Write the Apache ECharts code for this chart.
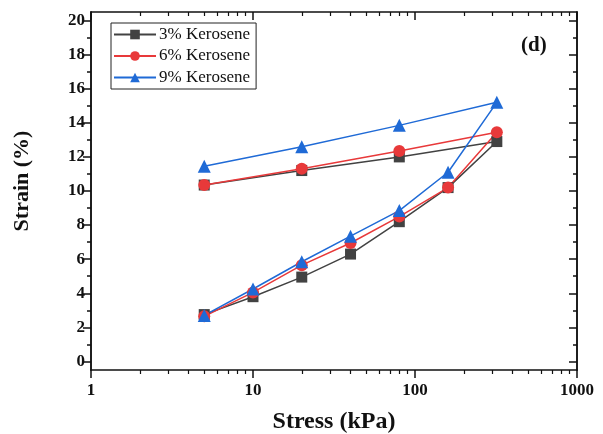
<!DOCTYPE html>
<html style="height: 100%">
<head>
    <meta charset="utf-8">
    <title>Strain vs Stress</title>
    <script src="https://cdn.jsdelivr.net/npm/echarts@6.0.0/dist/echarts.min.js"></script>
</head>
<body style="height: 100%; margin: 0; background: #fff">
<div id="container" style="width: 603px; height: 434px"></div>
<script type="text/javascript">
    // loading 5 -> 320 kPa, then unloading back to 5 kPa
    var stress = [5, 10, 20, 40, 80, 160, 320, 80, 20, 5];
    var strain3 = [2.75, 3.8, 4.95, 6.3, 8.2, 10.2, 12.9, 12.0, 11.2, 10.35];
    var strain6 = [2.65, 4.05, 5.65, 6.95, 8.5, 10.2, 13.45, 12.35, 11.3, 10.35];
    var strain9 = [2.7, 4.25, 5.85, 7.35, 8.85, 11.1, 15.2, 13.85, 12.6, 11.45];
    var yMajor = [0, 2, 4, 6, 8, 10, 12, 14, 16, 18, 20];
    var yMinor = [1, 3, 5, 7, 9, 11, 13, 15, 17, 19];

    function pairs(ys) {
        return stress.map(function (x, i) { return [x, ys[i]]; });
    }

    var font = 'Liberation Serif';
    var black = '#111';

    var dom = document.getElementById('container');
    var myChart = echarts.init(dom);

    function yAx(pos, ticks, inside, len, labels) {
        return {
            type: 'value', min: -0.5, max: 20.5, position: pos,
            axisLine: { show: true, onZero: false, lineStyle: { color: black, width: 1.5 } },
            axisTick: { show: true, inside: inside, length: len, customValues: ticks,
                lineStyle: { color: black, width: 1.5 } },
            axisLabel: { show: labels, customValues: ticks, margin: 6,
                fontFamily: font, fontWeight: 'bold', fontSize: 17, color: black },
            splitLine: { show: false }
        };
    }

    function xAx(pos, inside, labels) {
        return {
            type: 'log', logBase: 10, min: 1, max: 1000, position: pos,
            axisLine: { show: true, onZero: false, lineStyle: { color: black, width: 1.5 } },
            axisTick: { show: true, inside: inside, length: 8, lineStyle: { color: black, width: 1.5 } },
            minorTick: { show: true, splitNumber: 9, length: 4, lineStyle: { color: black, width: 1.2 } },
            axisLabel: { show: labels, margin: 12, fontFamily: font, fontWeight: 'bold', fontSize: 17, color: black,
                formatter: function (v) { return String(Math.round(v)); } },
            splitLine: { show: false },
            minorSplitLine: { show: false }
        };
    }

    var xs = [xAx('bottom', false, true), xAx('top', true, false)];
    xs[0].name = 'Stress (kPa)';
    xs[0].nameLocation = 'middle';
    xs[0].nameGap = 40;
    xs[0].nameTextStyle = { fontFamily: font, fontWeight: 'bold', fontSize: 24, color: black };

    var ys = [
        yAx('left', yMajor, false, 8, true),
        yAx('left', yMinor, false, 4, false),
        yAx('right', yMajor, true, 8, false),
        yAx('right', yMinor, true, 4, false)
    ];
    ys[0].name = 'Strain (%)';
    ys[0].nameLocation = 'middle';
    ys[0].nameGap = 58;
    ys[0].nameTextStyle = { fontFamily: font, fontWeight: 'bold', fontSize: 22, color: black,
        padding: [0, 0, 0, 20] };

    function line(name, ys, color, symbol, size) {
        return {
            name: name, type: 'line', data: pairs(ys),
            symbol: symbol, symbolSize: size,
            lineStyle: { color: color, width: 1.5 },
            itemStyle: { color: color },
            animation: false
        };
    }

    var option = {
        backgroundColor: '#fff',
        grid: { left: 91, right: 26, top: 12, bottom: 64, containLabel: false, outerBoundsMode: 'none' },
        title: {
            text: '(d)', left: 516, top: 30,
            textStyle: { fontFamily: font, fontWeight: 'bold', fontSize: 21, color: black }
        },
        legend: {
            orient: 'vertical', left: 111, top: 23,
            backgroundColor: '#fff',
            borderColor: '#222', borderWidth: 1,
            padding: [3, 6, 3, 2],
            itemWidth: 42, itemHeight: 12, itemGap: 4.5,
            textStyle: { fontFamily: font, fontSize: 17, color: black, padding: [0, 0, 0, -2] },
            data: ['3% Kerosene', '6% Kerosene', '9% Kerosene']
        },
        xAxis: xs,
        yAxis: ys,
        series: [
            line('3% Kerosene', strain3, '#424242', 'rect', 11),
            line('6% Kerosene', strain6, '#e8393a', 'circle', 12),
            line('9% Kerosene', strain9, '#1f6ad6', 'triangle', 13)
        ]
    };

    myChart.setOption(option);
    window.onresize = function () {
        myChart.resize();
    };
</script>
</body>
</html>
